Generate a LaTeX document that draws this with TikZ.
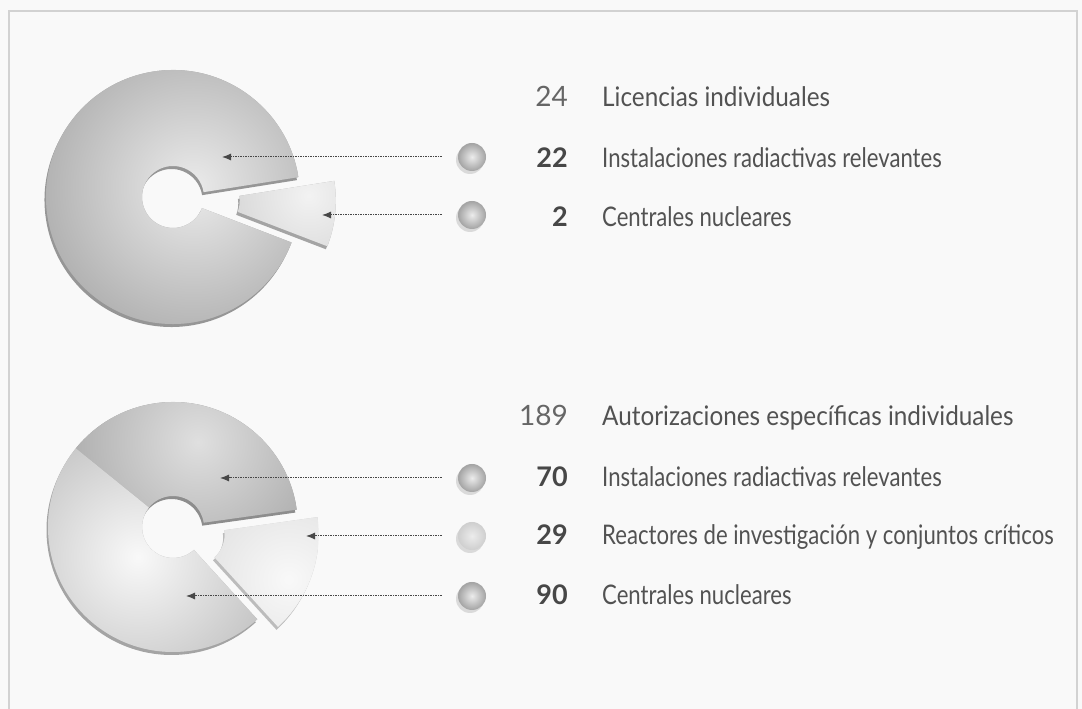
\documentclass[tikz,border=0pt]{standalone}
\usepackage{fontspec}
\setmainfont[FakeStretch=0.82]{Lato}
\newfontfamily\numfont{Lato}
\newfontfamily\headfont[FakeStretch=0.9]{Lato}
\usepackage{tikz}
\usetikzlibrary{calc,positioning,arrows.meta,shadows}
\tikzset{
  pointer/.style={-{Latex[length=9pt,width=7pt]}, draw=black!72, line width=1pt, dash pattern=on 1.5pt off 1pt, shorten <=16pt},
  bullet/.style={circle, minimum size=28pt, inner sep=0pt, shade, inner color=gray!15, outer color=#1, drop shadow={shadow xshift=-2pt, shadow yshift=-3pt, opacity=0.25}},
  bullet/.default=gray!72,
  num/.style={inner sep=0pt, font=\fontsize{27}{30}\numfont\bfseries, text=black!72},
  headnum/.style={inner sep=0pt, font=\fontsize{28}{30}\numfont, text=black!60},
  lab/.style={inner sep=0pt, font=\fontsize{27}{30}\selectfont, text=black!68},
  headlab/.style={lab, font=\fontsize{27}{30}\headfont}
}
% one slice of a ring: centre, from, to, outer radius, colour, light colour, light spot
\newcommand{\ringslice}[7]{%
  \colorlet{slicebase}{#5}%
  \begin{scope}[shift={(#1)}]
    \fill[slicebase!92!black, shift={(-1.5,-3)}] (#2:#4) arc[start angle=#2, end angle=#3, radius=#4] -- (#3:31) arc[start angle=#3, end angle=#2, radius=31] -- cycle;
    \begin{scope}
      \clip (#2:#4) arc[start angle=#2, end angle=#3, radius=#4] -- (#3:31) arc[start angle=#3, end angle=#2, radius=31] -- cycle;
      \fill[slicebase] (-#4,-#4) rectangle (#4,#4);
      \shade[inner color=#6, outer color=slicebase] (#7) circle (1.5*#4);
    \end{scope}
  \end{scope}}

\begin{document}
\begin{tikzpicture}[x=1pt, y=1pt]
  \useasboundingbox (0,0) rectangle (1082,709);
  \fill[gray!5] (0,0) rectangle (1082,709);
  \draw[gray!35, line width=2pt] (9,0) -- (9,698) -- (1077,698) -- (1077,0);

  % licencias
  \coordinate (ctop) at (173,512);
  \ringslice{ctop}{9}{339}{127}{gray!72}{gray!16}{20,10}
  \ringslice{$(ctop)+(-6:36)$}{-21}{9}{127}{gray!60}{gray!10}{100,5}

  \node[headnum, anchor=base east] (n24) at (568,602) {24};
  \node[headlab, base right=34pt of n24] (l24) {Licencias individuales};
  \node[num, anchor=base east] (n22) at (568,541) {22};
  \node[lab, base right=34pt of n22] (l22) {Instalaciones radiactivas relevantes};
  \node[num, anchor=base east] (n2) at (568,482) {2};
  \node[lab, base right=34pt of n2] (l2) {Centrales nucleares};

  \node[bullet] (b22) at (472,552) {};
  \node[bullet] (b2) at (472,494) {};
  \coordinate (p22) at (222,552);
  \coordinate (p2) at (322,494);
  \draw[pointer] (b22) -- (p22);
  \draw[pointer] (b2) -- (p2);

  % autorizaciones
  \coordinate (cbot) at (173,182);
  \ringslice{cbot}{8}{141}{125}{gray!80}{gray!25}{25,85}
  \ringslice{cbot}{141}{312.4}{125}{gray!60}{gray!5}{-35,-30}
  \ringslice{$(cbot)+(-20:22)$}{-47.6}{8}{125}{gray!40}{gray!5}{95,-45}

  \node[headnum, anchor=base east] (n189) at (568,283) {189};
  \node[headlab, base right=34pt of n189] (l189) {Autorizaciones específicas individuales};
  \node[num, anchor=base east] (n70) at (568,222) {70};
  \node[lab, base right=34pt of n70] (l70) {Instalaciones radiactivas relevantes};
  \node[num, anchor=base east] (n29) at (568,164) {29};
  \node[lab, base right=34pt of n29] (l29) {Reactores de investigación y conjuntos críticos};
  \node[num, anchor=base east] (n90) at (568,104) {90};
  \node[lab, base right=34pt of n90] (l90) {Centrales nucleares};

  \node[bullet] (b70) at (472,231) {};
  \node[bullet=gray!38] (b29) at (472,173) {};
  \node[bullet] (b90) at (472,113) {};
  \coordinate (p70) at (220,231);
  \coordinate (p29) at (306,173);
  \coordinate (p90) at (186,113);
  \draw[pointer] (b70) -- (p70);
  \draw[pointer] (b29) -- (p29);
  \draw[pointer] (b90) -- (p90);
\end{tikzpicture}
\end{document}
